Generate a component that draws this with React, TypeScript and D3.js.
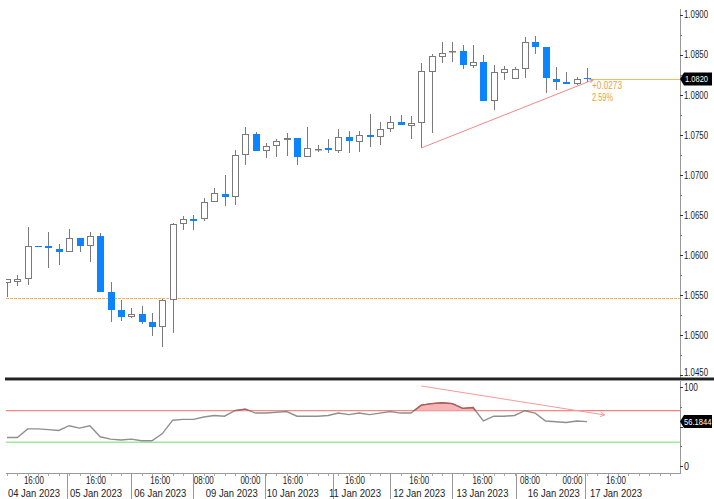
import React from "react";
import * as d3 from "d3";

const W = 714;
const H = 499;

// EUR/USD 4H candles (04 Jan 2023 04:00 .. 16 Jan 2023 20:00)
const opens = [1.05653, 1.05666, 1.05703, 1.06118, 1.06115, 1.06078, 1.0604, 1.06215, 1.06115, 1.0624,
  1.05541, 1.05316, 1.05229, 1.05266, 1.05167, 1.05104, 1.05441, 1.0639, 1.06452, 1.06452,
  1.06665, 1.06764, 1.06727, 1.07251, 1.07513, 1.07301, 1.07364, 1.07439, 1.07463, 1.07226,
  1.07326, 1.07339, 1.07301, 1.07476, 1.07414, 1.07501, 1.07476, 1.07576, 1.07663, 1.07613,
  1.07651, 1.08287, 1.08475, 1.08537, 1.0855, 1.08362, 1.08412, 1.07925, 1.08275, 1.082,
  1.08325, 1.08662, 1.08599, 1.082, 1.08163, 1.08138, 1.08212];
const highs = [1.05703, 1.05753, 1.06353, 1.06118, 1.0629, 1.0614, 1.06328, 1.06215, 1.0629, 1.06278,
  1.05666, 1.05441, 1.05341, 1.05366, 1.05279, 1.05454, 1.06402, 1.0649, 1.06502, 1.06714,
  1.06839, 1.07002, 1.07314, 1.07601, 1.07538, 1.07401, 1.07451, 1.07526, 1.07463, 1.07601,
  1.07376, 1.07451, 1.07576, 1.07551, 1.07551, 1.07763, 1.07663, 1.07738, 1.07751, 1.07738,
  1.084, 1.08512, 1.08662, 1.08662, 1.08624, 1.08624, 1.085, 1.08375, 1.08362, 1.0835,
  1.08724, 1.08737, 1.08599, 1.0835, 1.08287, 1.08225, 1.08337];
const lows = [1.05479, 1.05616, 1.05629, 1.06108, 1.05841, 1.05878, 1.0604, 1.0604, 1.05916, 1.05541,
  1.05167, 1.05179, 1.05217, 1.05142, 1.04992, 1.04855, 1.05029, 1.06315, 1.06315, 1.06427,
  1.06665, 1.06615, 1.06627, 1.07126, 1.07301, 1.07214, 1.07226, 1.07239, 1.07126, 1.07226,
  1.07289, 1.07276, 1.07276, 1.07276, 1.07289, 1.07351, 1.07376, 1.07538, 1.07626, 1.07451,
  1.07339, 1.07526, 1.084, 1.08412, 1.08325, 1.08337, 1.07925, 1.07813, 1.08188, 1.082,
  1.08212, 1.08512, 1.08025, 1.08063, 1.08138, 1.08125, 1.08163];
const closes = [1.05703, 1.05703, 1.06115, 1.06108, 1.0609, 1.0604, 1.06215, 1.06115, 1.0624, 1.05541,
  1.05316, 1.05229, 1.05266, 1.05167, 1.05104, 1.05441, 1.0639, 1.06452, 1.06427, 1.06665,
  1.06777, 1.06727, 1.07251, 1.07513, 1.07301, 1.07364, 1.07426, 1.07463, 1.07226, 1.07339,
  1.0733, 1.07314, 1.07476, 1.07426, 1.07501, 1.07476, 1.07576, 1.07663, 1.07626, 1.07651,
  1.083, 1.08487, 1.08525, 1.08545, 1.08375, 1.08412, 1.07925, 1.08287, 1.08325, 1.08325,
  1.08662, 1.08599, 1.08212, 1.08163, 1.08138, 1.082, 1.082];

// RSI(14)
const rsiValues = [36, 36, 47, 47, 46, 45, 51, 48, 51, 37,
  34, 33, 34, 32, 32, 41, 58, 59, 59, 62,
  64, 63, 70, 72, 67, 67, 68, 69, 63, 63,
  63, 64, 67, 65, 67, 65, 67, 69, 67, 67,
  77, 79, 80, 79, 73, 74, 57, 63, 63, 64,
  70, 67, 57, 56, 55, 57, 56.1844];

const priceTicks = [1.045, 1.05, 1.055, 1.06, 1.065, 1.07, 1.075, 1.08, 1.085, 1.09];
const priceMinor = [1.0475, 1.0525, 1.0575, 1.0625, 1.0675, 1.0725, 1.0775, 1.0825, 1.0875];
const rsiTicks = [0, 50, 100];
const rsiTickLabels = [0, 100];
const rsiMinor = [25, 75];
const lastPrice = 1.082;
const lastRsi = 56.1844;
const refLevel = 1.0547;
const changeText = "+0.0273";
const changePctText = "2.59%";
const overbought = 70;
const oversold = 30;

// x-axis labels (positions in candle-index units)
const timeLabelIdx = [2.6, 8.6, 14.8, 19.0, 23.5, 27.6, 33.6, 39.8, 45.9, 50.5, 54.6, 58.8];
const timeLabelText = ["16:00", "16:00", "16:00", "08:00", "00:00", "16:00", "16:00", "16:00", "16:00", "08:00", "00:00", "16:00"];
const dateLabelIdx = [2.6, 8.6, 14.8, 21.7, 27.6, 33.6, 39.8, 45.9, 52.8, 58.8];
const dateLabelText = ["04 Jan 2023", "05 Jan 2023", "06 Jan 2023", "09 Jan 2023", "10 Jan 2023", "11 Jan 2023", "12 Jan 2023", "13 Jan 2023", "16 Jan 2023", "17 Jan 2023"];
const separatorIdx = [5.8, 12.0, 18.0, 24.9, 31.5, 37.0, 43.0, 49.1, 55.8];

// divergence trend lines (index, value)
const priceTrend = [[40, 1.07339], [56.6, 1.0819]];
const rsiTrend = [[40, 101.3], [57.7, 64.6]];

const FONT = "'Liberation Sans', Arial, sans-serif";
const BLUE = "#0a84ff";
const GRAY = "#7a7a7a";

const PLOT_L = 6;
const AXIS_X = 680;

export default function App() {
  const n = closes.length;
  const xs = d3.scaleLinear().domain([0, n - 1]).range([7, 587]);
  const ys = d3.scaleLinear().domain([1.045, 1.09]).range([375.4, 14.9]);
  const yr = d3.scaleLinear().domain([0, 100]).range([466, 387]);

  const candles = d3.range(n).map((i) => {
    const o = opens[i], c = closes[i], h = highs[i], l = lows[i];
    const cx = Math.round(xs(i));
    const up = c >= o;
    const yTop = Math.round(ys(Math.max(o, c)));
    const yBot = Math.round(ys(Math.min(o, c)));
    const bh = Math.max(1, yBot - yTop);
    return (
      <g key={i}>
        <line x1={cx + 0.5} x2={cx + 0.5} y1={Math.round(ys(h))} y2={Math.round(ys(l))} stroke={GRAY} strokeWidth={1} />
        {up ? (
          <rect x={cx - 3 + 0.5} y={yTop + 0.5} width={7 - 1} height={Math.max(bh - 1, 0.5)} fill="#fff" stroke={GRAY} strokeWidth={1} />
        ) : (
          <rect x={cx - 3} y={yTop} width={7} height={bh} fill={BLUE} />
        )}
      </g>
    );
  });

  const idx = d3.range(n);
  const rsiLine = d3.line<number>().x((i) => xs(i)).y((i) => yr(rsiValues[i]))(idx) || "";
  const rsiArea = d3.area<number>().x((i) => xs(i)).y0(yr(overbought)).y1((i) => yr(rsiValues[i]))(idx) || "";

  const chevron = (p0: number[], p1: number[], size: number) => {
    const ang = Math.atan2(p1[1] - p0[1], p1[0] - p0[0]);
    const a1 = ang + Math.PI - 0.5, a2 = ang + Math.PI + 0.5;
    return `M${p1[0] + size * Math.cos(a1)},${p1[1] + size * Math.sin(a1)}L${p1[0]},${p1[1]}L${p1[0] + size * Math.cos(a2)},${p1[1] + size * Math.sin(a2)}`;
  };
  const pt0 = [xs(priceTrend[0][0]), ys(priceTrend[0][1])];
  const pt1 = [xs(priceTrend[1][0]), ys(priceTrend[1][1])];
  const rt0 = [xs(rsiTrend[0][0]), yr(rsiTrend[0][1])];
  const rt1 = [xs(rsiTrend[1][0]), yr(rsiTrend[1][1])];

  const yLast = ys(lastPrice);
  const yLastR = yr(lastRsi);
  const minorX = d3.range(0, 65);

  return (
    <svg width={W} height={H} style={{ position: "fixed", left: 0, top: 0, background: "#fff" }} fontFamily={FONT}>
      <defs>
        <clipPath id="plotClip"><rect x={PLOT_L} y={0} width={AXIS_X - PLOT_L} height={378} /></clipPath>
        <clipPath id="rsiClip"><rect x={PLOT_L} y={381} width={AXIS_X - PLOT_L} height={92} /></clipPath>
        <clipPath id="obClip"><rect x={PLOT_L} y={381} width={AXIS_X - PLOT_L} height={yr(overbought) - 381} /></clipPath>
      </defs>

      {/* main price panel */}
      <g clipPath="url(#plotClip)">
        <line x1={PLOT_L} x2={AXIS_X} y1={Math.round(ys(refLevel)) + 0.5} y2={Math.round(ys(refLevel)) + 0.5} stroke="#f3b060" strokeWidth={1} strokeDasharray="3,1" />
        {candles}
        <line x1={xs(n - 1) + 3} x2={AXIS_X} y1={Math.round(yLast) + 0.5} y2={Math.round(yLast) + 0.5} stroke="#f5b766" strokeWidth={1} />
        <line x1={pt0[0]} y1={pt0[1]} x2={pt1[0]} y2={pt1[1]} stroke="#f28a8a" strokeWidth={1} />
        <path d={chevron(pt0, pt1, 4)} fill="none" stroke="#f28a8a" strokeWidth={1} />
        <text x={592} y={89} fontSize={10} fill="#f0a040" textLength={30} lengthAdjust="spacingAndGlyphs">{changeText}</text>
        <text x={592} y={101} fontSize={10} fill="#f0a040" textLength={21} lengthAdjust="spacingAndGlyphs">{changePctText}</text>
      </g>

      {/* price axis */}
      <line x1={AXIS_X + 0.5} x2={AXIS_X + 0.5} y1={9} y2={378} stroke="#999" strokeWidth={1} />
      {priceTicks.map((t) => (
        <g key={t}>
          <line x1={AXIS_X} x2={AXIS_X + 3} y1={Math.round(ys(t)) + 0.5} y2={Math.round(ys(t)) + 0.5} stroke="#333" />
          <text x={AXIS_X + 4} y={Math.min(ys(t), 372) + 3.5} fontSize={10} fill="#222" textLength={24} lengthAdjust="spacingAndGlyphs">{d3.format(".4f")(t)}</text>
        </g>
      ))}
      {priceMinor.map((t) => (
        <line key={t} x1={AXIS_X} x2={AXIS_X + 2} y1={Math.round(ys(t)) + 0.5} y2={Math.round(ys(t)) + 0.5} stroke="#777" />
      ))}
      <path d={`M${AXIS_X},${yLast} L${AXIS_X + 4},${yLast - 6.5} L${W - 2},${yLast - 6.5} L${W - 2},${yLast + 6.5} L${AXIS_X + 4},${yLast + 6.5} Z`} fill="#000" />
      <text x={AXIS_X + 5} y={yLast + 3.5} fontSize={9.5} fill="#fff" textLength={23} lengthAdjust="spacingAndGlyphs">{d3.format(".4f")(lastPrice)}</text>

      {/* panel separator */}
      <rect x={PLOT_L - 1} y={377.5} width={W - PLOT_L + 1} height={2.5} fill="#222" />
      <line x1={PLOT_L - 1} x2={W} y1={380.5} y2={380.5} stroke="#999" strokeWidth={1} />

      {/* RSI panel */}
      <g clipPath="url(#rsiClip)">
        <line x1={PLOT_L} x2={AXIS_X} y1={yr(overbought)} y2={yr(overbought)} stroke="#f27f7f" strokeWidth={1.2} />
        <line x1={PLOT_L} x2={AXIS_X} y1={yr(oversold)} y2={yr(oversold)} stroke="#9fe89f" strokeWidth={1.5} />
        <path d={rsiArea} fill="#f7b5b5" clipPath="url(#obClip)" />
        <path d={rsiLine} fill="none" stroke="#8f8f8f" strokeWidth={1.4} />
        <path d={rsiLine} fill="none" stroke="#b35a5a" strokeWidth={1.4} clipPath="url(#obClip)" />
        <line x1={rt0[0]} y1={rt0[1]} x2={rt1[0]} y2={rt1[1]} stroke="#f59a9a" strokeWidth={1} />
        <path d={chevron(rt0, rt1, 5)} fill="none" stroke="#f59a9a" strokeWidth={1} />
      </g>
      <line x1={AXIS_X + 0.5} x2={AXIS_X + 0.5} y1={381} y2={473} stroke="#999" strokeWidth={1} />
      {rsiTicks.map((t) => (
        <line key={t} x1={AXIS_X} x2={AXIS_X + 3} y1={Math.round(yr(t)) + 0.5} y2={Math.round(yr(t)) + 0.5} stroke="#333" />
      ))}
      {rsiTickLabels.map((t) => (
        <text key={t} x={AXIS_X + 4} y={yr(t) + 3.5} fontSize={10} fill="#222" textLength={t === 100 ? 14 : 5} lengthAdjust="spacingAndGlyphs">{t}</text>
      ))}
      {rsiMinor.map((t) => (
        <line key={t} x1={AXIS_X} x2={AXIS_X + 2} y1={Math.round(yr(t)) + 0.5} y2={Math.round(yr(t)) + 0.5} stroke="#777" />
      ))}
      <path d={`M${AXIS_X},${yLastR} L${AXIS_X + 4},${yLastR - 6.5} L${W - 2},${yLastR - 6.5} L${W - 2},${yLastR + 6.5} L${AXIS_X + 4},${yLastR + 6.5} Z`} fill="#000" />
      <text transform={`translate(${AXIS_X + 4},${yLastR + 3.5}) scale(0.8,1)`} x={0} y={0} fontSize={9.5} fill="#fff">{d3.format(".4f")(lastRsi)}</text>

      {/* time axis */}
      <line x1={PLOT_L} x2={AXIS_X + 1} y1={473.5} y2={473.5} stroke="#999" strokeWidth={1} />
      {minorX.map((i) => {
        const x = Math.round(xs(i)) + 0.5;
        return x > PLOT_L && x < AXIS_X ? <line key={i} x1={x} x2={x} y1={474} y2={476} stroke="#aaa" /> : null;
      })}
      {separatorIdx.map((s) => {
        const x = Math.round(xs(s)) + 0.5;
        return <line key={s} x1={x} x2={x} y1={474} y2={H} stroke="#999" strokeWidth={1} />;
      })}
      {timeLabelIdx.map((p, k) => (
        <text key={"t" + k} x={xs(p) - 10} y={484} fontSize={10} fill="#222" textLength={20} lengthAdjust="spacingAndGlyphs">{timeLabelText[k]}</text>
      ))}
      {dateLabelIdx.map((p, k) => (
        <text key={"d" + k} x={xs(p) - 26} y={497} fontSize={10} fill="#222" textLength={52} lengthAdjust="spacingAndGlyphs">{dateLabelText[k]}</text>
      ))}
    </svg>
  );
}
